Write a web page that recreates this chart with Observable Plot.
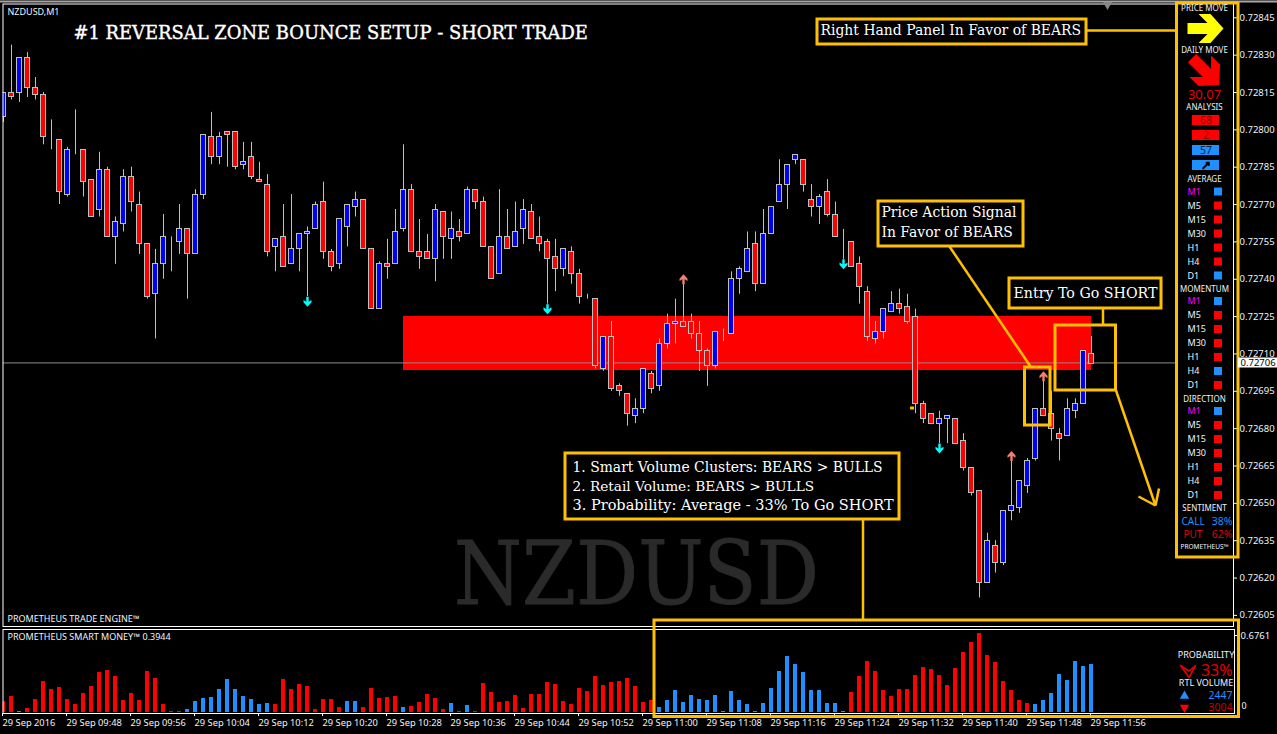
<!doctype html>
<html><head><meta charset="utf-8">
<script src="https://cdn.jsdelivr.net/npm/d3@7"></script>
<script src="https://cdn.jsdelivr.net/npm/@observablehq/plot@0.6"></script>
<style>
html,body{margin:0;background:#000;overflow:hidden}
#chart{position:relative;width:1277px;height:734px;background:#000}
#chart svg{position:absolute;left:0;top:0}
</style></head><body><div id="chart"></div>
<script>
// Prices in points (1 point = 0.00001)
const open = [72805,72815,72815,72829,72817,72814,72796,72796,72774,72791,
72792,72780,72768,72784,72757,72762,72781,72770,72754,72734,
72746,72755,72755,72760,72750,72774,72797,72789,72799,72799,
72786,72789,72780,72778,72753,72757,72746,72752,72758,72760,
72771,72751,72746,72761,72769,72772,72752,72728,72746,72746,
72760,72776,72751,72751,72748,72767,72756,72759,72758,72776,
72771,72753,72742,72757,72753,72760,72767,72757,72755,72749,
72744,72751,72742,72733,72732,72704,72717,72697,72694,72685,
72688,72702,72697,72714,72722,72723,72723,72718,72711,72705,
72719,72718,72740,72743,72754,72738,72758,72771,72778,72788,
72788,72772,72769,72775,72766,72756,72755,72746,72735,72716,
72719,72727,72730,72729,72725,72690,72686,72682,72684,72684,
72675,72664,72655,72618,72633,72626,72647,72648,72657,72668,
72688,72686,72678,72677,72687,72690,72710];
const high = [72815,72834,72829,72831,72821,72815,72804,72796,72793,72808,
72792,72780,72791,72785,72765,72784,72785,72775,72754,72752,
72766,72757,72770,72760,72776,72798,72807,72799,72799,72799,
72795,72795,72787,72782,72756,72770,72774,72758,72761,72771,
72779,72752,72764,72770,72775,72772,72752,72747,72756,72768,
72794,72778,72764,72758,72770,72767,72767,72764,72777,72776,
72773,72753,72776,72768,72771,72772,72770,72765,72756,72756,
72752,72753,72744,72734,72732,72717,72723,72698,72694,72692,
72704,72703,72716,72726,72732,72738,72726,72723,72712,72719,
72720,72743,72745,72759,72759,72768,72769,72788,72786,72790,
72788,72778,72774,72780,72771,72760,72755,72749,72737,72723,
72728,72735,72736,72734,72728,72691,72686,72687,72685,72684,
72678,72664,72655,72638,72635,72647,72667,72659,72668,72688,
72699,72695,72680,72692,72692,72711,72717];
const low = [72803,72812,72811,72813,72812,72794,72792,72770,72773,72790,
72773,72765,72765,72757,72746,72759,72767,72750,72732,72716,
72740,72743,72750,72732,72750,72772,72786,72786,72785,72784,
72784,72780,72779,72749,72743,72745,72746,72743,72733,72760,
72748,72743,72744,72753,72765,72752,72728,72728,72740,72746,
72759,72751,72744,72748,72739,72748,72748,72755,72758,72768,
72753,72740,72742,72752,72753,72754,72756,72751,72730,72735,
72741,72738,72730,72732,72704,72703,72695,72693,72681,72682,
72686,72694,72695,72712,72714,72721,72716,72703,72697,72704,
72715,72718,72734,72743,72735,72738,72758,72771,72768,72786,
72775,72765,72762,72765,72757,72748,72745,72730,72715,72714,
72716,72727,72726,72722,72686,72682,72682,72674,72674,72674,
72663,72653,72612,72618,72622,72625,72643,72646,72654,72667,
72685,72675,72667,72677,72684,72690,72706];
const close = [72815,72813,72829,72817,72814,72797,72796,72775,72792,72791,
72779,72765,72784,72757,72763,72781,72771,72754,72733,72746,
72757,72755,72760,72750,72774,72798,72789,72797,72798,72785,
72787,72781,72779,72751,72756,72745,72752,72758,72759,72770,
72751,72745,72764,72770,72772,72752,72728,72746,72745,72759,
72776,72751,72749,72748,72768,72757,72760,72757,72776,72771,
72753,72740,72757,72752,72759,72768,72756,72754,72748,72744,
72752,72742,72733,72733,72705,72717,72696,72695,72686,72688,
72704,72696,72714,72722,72723,72721,72718,72711,72705,72719,
72719,72740,72744,72752,72738,72758,72769,72778,72786,72790,
72778,72769,72773,72766,72757,72756,72745,72737,72717,72719,
72728,72730,72728,72723,72690,72684,72682,72684,72685,72674,
72664,72654,72618,72635,72626,72647,72649,72659,72667,72688,
72685,72680,72676,72688,72690,72711,72706];
const smartVolume = [.097,.140,.011,.037,.114,.268,.200,.217,.114,.071,
.165,.225,.345,.362,.311,.106,.165,.106,.354,.294,
.071,.006,.006,.029,.097,.123,.131,.200,.285,.200,
.140,.114,.071,.080,.071,.285,.200,.243,.225,.029,
.114,.114,.046,.097,.097,.046,.208,.123,.131,.140,
.046,.054,.088,.157,.123,.029,.080,.006,.063,.011,
.251,.174,.088,.097,.148,.037,.157,.157,.260,.243,
.097,.071,.208,.183,.311,.234,.260,.268,.294,.225,
.088,.106,.046,.106,.191,.088,.148,.114,.106,.148,
.011,.183,.106,.071,.011,.080,.208,.354,.482,.414,
.345,.191,.191,.080,.080,.006,.174,.311,.439,.354,
.191,.140,.200,.200,.320,.388,.371,.320,.234,.379,
.516,.602,.676,.491,.431,.268,.191,.106,.080,.071,
.106,.165,.328,.277,.439,.397,.414];
const bullVolumeBars = [2,23,24,25,26,27,28,29,30,31,32,33,43,44,50,56,58,
82,83,84,85,86,87,88,89,90,91,92,93,94,95,96,97,98,99,100,101,102,103,104,105,
129,130,131,132,133,134,135,136];
const priceTicks = [72845,72830,72815,72800,72785,72770,72755,72740,72725,72710,72695,72680,72665,72650,72635,72620,72605];
const timeLabels = ["29 Sep 2016","29 Sep 09:48","29 Sep 09:56","29 Sep 10:04","29 Sep 10:12","29 Sep 10:20","29 Sep 10:28","29 Sep 10:36","29 Sep 10:44","29 Sep 10:52","29 Sep 11:00","29 Sep 11:08","29 Sep 11:16","29 Sep 11:24","29 Sep 11:32","29 Sep 11:40","29 Sep 11:48","29 Sep 11:56"];
const upArrowCandles = [38,68,105,117];
const downArrowCandles = [85,126,130];
const reversalZone = {from:50,to:136,top:72725,bottom:72703.5};
const bidPrice = 72706;
const timeframes = ["M1","M5","M15","M30","H1","H4","D1"];
const averageSignal = ["B","S","S","S","S","S","B"];
const momentumSignal = ["B","S","S","S","S","B","S"];
const directionSignal = ["B","S","S","S","S","S","S"];

const UI = "'Noto Sans'", SERIF = "'DejaVu Serif'";
const BLUE="#1e90ff", RED="#ff0000", GOLD="#ffc000", GREY="#c0c0c0", INK="#eef4fb";
const idx = d3.range(open.length);
const base = {width:1277,height:734,style:{background:"transparent",color:"#fff",overflow:"visible"}};
const tickFmt = d => (d/1e5).toFixed(5);
// Small barbed signal arrow, pointing up from the origin
const signalArrow = {draw(c){
  c.moveTo(-1.2,0);c.lineTo(-1.2,-5);c.lineTo(-4,-3.2);c.lineTo(-4,-5.5);c.lineTo(0,-10);
  c.lineTo(4,-5.5);c.lineTo(4,-3.2);c.lineTo(1.2,-5);c.lineTo(1.2,0);c.closePath();}};
// Block arrow, pointing up from the origin
const blockArrow = {draw(c,l){const k=l/36;
  c.moveTo(-5.5*k,0);c.lineTo(-5.5*k,-20*k);c.lineTo(-14.5*k,-11*k);c.lineTo(-14.5*k,-23*k);
  c.lineTo(0,-36*k);c.lineTo(14.5*k,-23*k);c.lineTo(14.5*k,-11*k);c.lineTo(5.5*k,-20*k);c.lineTo(5.5*k,0);c.closePath();}};

const pricePlot = Plot.plot({...base,marginLeft:2.5,marginTop:3.5,marginRight:44,marginBottom:108,
  x:{type:"linear",domain:[0,136],range:[3,1091],axis:null},
  y:{domain:[72845,72605],range:[17.3,614.9],axis:null},
  marks:[
    Plot.rect([reversalZone],{x1:"from",x2:"to",y1:"top",y2:"bottom",fill:RED,shapeRendering:"crispEdges"}),
    Plot.ruleY([bidPrice],{x1:0,x2:147,dy:-1,stroke:"#8c8c8c"}),
    Plot.ruleX(idx,{x:i=>i,y1:i=>low[i],y2:i=>high[i],stroke:GREY,clip:true}),
    Plot.rect(idx,{x1:i=>i-.28,x2:i=>i+.28,y1:i=>open[i],y2:i=>close[i],clip:true,
      fill:i=>close[i]>open[i]?"#0000ff":close[i]<open[i]?RED:GREY,stroke:GREY,strokeWidth:1,shapeRendering:"crispEdges"}),
    Plot.vector(upArrowCandles,{x:i=>i,y:i=>low[i],rotate:180,length:10,anchor:"start",shape:signalArrow,fill:"#00ffff",stroke:"none"}),
    Plot.vector(downArrowCandles,{x:i=>i,y:i=>high[i],rotate:0,length:10,anchor:"start",shape:signalArrow,fill:"#f0806c",stroke:"none"}),
    Plot.frame({stroke:"#fff"}),
    Plot.axisY({anchor:"right",label:null,ticks:priceTicks,tickFormat:tickFmt,tickSize:3,tickPadding:3,stroke:"#fff",fill:INK,fontSize:9.5,fontFamily:UI})
  ]});

const volumeBars = idx.map(i=>({i,v:smartVolume[i],bull:bullVolumeBars.includes(i)}));
const volumePlot = Plot.plot({...base,marginLeft:2.5,marginTop:629,marginRight:43,marginBottom:21,
  x:{type:"linear",domain:[0,136],range:[3,1091],axis:null},
  y:{domain:[0,.6761],range:[712,633],axis:null},
  marks:[
    Plot.rect(volumeBars,{x1:d=>d.i-.3,x2:d=>d.i+.3,y1:0,y2:"v",fill:d=>d.bull?BLUE:RED,clip:true,shapeRendering:"crispEdges"}),
    Plot.frame({stroke:"#fff"}),
    Plot.axisX({anchor:"bottom",label:null,ticks:timeLabels.map((_,k)=>k*8),tickFormat:i=>timeLabels[i/8],textAnchor:"start",tickSize:3,tickPadding:3,dx:-1,stroke:"#fff",fill:INK,fontSize:9.3,fontFamily:UI}),
    Plot.axisY({anchor:"right",label:null,ticks:[.6761],tickFormat:".4f",tickSize:3,tickPadding:3,dy:2,stroke:"#fff",fill:INK,fontSize:9.5,fontFamily:UI})
  ]});

// Overlay layer: callouts and the indicator panel, on a page-sized scale
const textBoxes = [
  {x1:817,x2:1086,y1:19,y2:44},
  {x1:878,x2:1023,y1:201,y2:246},
  {x1:1009,x2:1161,y1:278,y2:308},
  {x1:565,x2:899,y1:453,y2:519}
];
const frames = [
  {x1:1024.5,x2:1050,y1:367,y2:425},
  {x1:1055,x2:1115.5,y1:325,y2:390},
  {x1:654,x2:1238.5,y1:620,y2:716.5},
  {x1:1176.5,x2:1238,y1:3,y2:557}
];
const leaders = [
  {x1:1086,y1:30,x2:1176,y2:30},
  {x1:949,y1:246,x2:1030,y2:366},
  {x1:1102.5,y1:308,x2:1102.5,y2:325},
  {x1:1115.5,y1:390,x2:1155,y2:505},
  {x1:1138,y1:496,x2:1155,y2:505},
  {x1:1158.5,y1:488,x2:1155,y2:505},
  {x1:862.5,y1:519,x2:862.5,y2:620}
];
const serifLabels = [
  {t:"Right Hand Panel In Favor of BEARS",x:820,y:30.5,s:13.95},
  {t:"Price Action Signal",x:881,y:212.5,s:13.9},
  {t:"In Favor of BEARS",x:881,y:232,s:13.9},
  {t:"Entry To Go SHORT",x:1013,y:293,s:14.2},
  {t:"1. Smart Volume Clusters: BEARS > BULLS",x:572,y:467,s:13.9},
  {t:"2. Retail Volume: BEARS > BULLS",x:572,y:486,s:13.7},
  {t:"3. Probability: Average - 33% To Go SHORT",x:572,y:505,s:14.5}
];
const uiStart = [
  {t:"NZDUSD,M1",x:7,y:11.5},
  {t:"PROMETHEUS TRADE ENGINE™",x:7,y:618.5},
  {t:"PROMETHEUS SMART MONEY™ 0.3944",x:7,y:637},
  {t:"0",x:1241,y:706}
];
const uiMiddle = [
  {t:"PROBABILITY",x:1205.5,y:655},
  {t:"RTL VOLUME",x:1205.5,y:683}
];
const panelHeads = [
  {t:"PRICE MOVE",y:8},{t:"DAILY MOVE",y:50},{t:"ANALYSIS",y:107},{t:"AVERAGE",y:179},
  {t:"MOMENTUM",y:289},{t:"DIRECTION",y:399},{t:"SENTIMENT",y:508},{t:"PROMETHEUS™",y:546,s:6.5}
];
const analysisRows = [
  {t:"68",y:120,f:RED,c:"#900000"},{t:"2",y:135,f:RED,c:"#900000"},
  {t:"57",y:150,f:BLUE,c:"#06284d"},{t:"",y:165,f:BLUE,c:"#000"}
];
const signalRows = [[191.5,averageSignal],[301,momentumSignal],[411,directionSignal]]
  .flatMap(([y0,sig])=>timeframes.map((tf,k)=>({tf,y:y0+k*14,s:sig[k]})));
const colouredStart = [
  {t:"CALL",x:1181,y:521.5,s:10,c:BLUE},
  {t:"PUT",x:1183,y:534.5,s:10,c:"#e00000"}
];
const colouredEnd = [
  {t:"38%",x:1232,y:521.5,s:10.5,c:BLUE},
  {t:"62%",x:1232,y:534.5,s:10.5,c:"#e00000"},
  {t:"33%",x:1232,y:670,s:16,c:"#e00000"},
  {t:"2447",x:1232,y:695.5,s:10.5,c:BLUE},
  {t:"3004",x:1232,y:707.5,s:10.5,c:"#c80000"}
];
const probabilityGlyph = [[1180,665],[1188.5,677],[1195,665],[1188.5,670.5],[1180,665]];

const overlay = Plot.plot({...base,margin:0,
  x:{type:"linear",domain:[0,1277],range:[0,1277],axis:null},
  y:{type:"linear",domain:[0,734],range:[0,734],axis:null},
  marks:[
    Plot.ruleY([1],{x1:0,x2:1277,stroke:"#a8a8a8",strokeWidth:2}),
    Plot.dot([0],{x:1107,y:4,symbol:"triangle",r:3.5,rotate:180,fill:"#888"}),
    Plot.rect([0],{x1:1177,x2:1233,y1:3,y2:557,fill:"#000"}),
    Plot.text(["NZDUSD"],{x:636,y:575,text:d=>d,fill:"#2a2a2a",fontSize:88,fontFamily:SERIF,stroke:"#2a2a2a",strokeWidth:1}),
    Plot.text(["#1 REVERSAL ZONE BOUNCE SETUP - SHORT TRADE"],{x:73,y:33,text:d=>d,textAnchor:"start",fill:"#fff",stroke:"#fff",strokeWidth:.4,fontSize:17.9,fontFamily:SERIF}),
    Plot.rect([0],{x1:910,x2:914,y1:406.5,y2:409.5,fill:GOLD}),
    Plot.text(uiStart,{x:"x",y:"y",text:"t",textAnchor:"start",fill:INK,fontSize:9,fontFamily:UI}),
    Plot.link(leaders,{x1:"x1",y1:"y1",x2:"x2",y2:"y2",stroke:GOLD,strokeWidth:2.5}),
    Plot.rect(frames,{x1:"x1",x2:"x2",y1:"y1",y2:"y2",fill:"none",stroke:GOLD,strokeWidth:3}),
    Plot.rect(textBoxes,{x1:"x1",x2:"x2",y1:"y1",y2:"y2",fill:"#000",stroke:GOLD,strokeWidth:3}),
    Plot.text(serifLabels,{x:"x",y:"y",text:"t",fontSize:"s",textAnchor:"start",fill:"#fff",fontFamily:SERIF}),
    Plot.text(uiMiddle,{x:"x",y:"y",text:"t",textAnchor:"middle",fill:INK,fontSize:9,fontFamily:UI}),
    // Bid price tag
    Plot.rect([0],{x1:1238,x2:1277,y1:357.5,y2:367.5,fill:"#fff"}),
    Plot.text([bidPrice],{x:1240,y:362.5,text:tickFmt,textAnchor:"start",fill:"#000",fontSize:9.5,fontFamily:UI}),
    // Indicator panel
    Plot.text(panelHeads,{x:1204,y:"y",text:"t",fill:INK,fontSize:d=>d.s||8,fontFamily:UI}),
    Plot.vector([0],{x:1205,y:28,rotate:90,length:36,shape:blockArrow,fill:"#ffff00",stroke:"none"}),
    Plot.vector([0],{x:1205,y:71,rotate:135,length:38,shape:blockArrow,fill:"#ff0000",stroke:"none"}),
    Plot.text(["30.07"],{x:1204,y:94,text:d=>d,fontSize:13,fill:"#e00000",fontFamily:UI}),
    Plot.rect(analysisRows,{x1:1192,x2:1219,y1:d=>d.y-5,y2:d=>d.y+5,fill:"f"}),
    Plot.text(analysisRows,{x:1205.5,y:"y",text:"t",fill:"c",fontSize:10.5,fontFamily:UI}),
    Plot.vector([0],{x:1205.5,y:165,rotate:45,length:8,stroke:"#000",strokeWidth:2}),
    Plot.text(signalRows,{x:1187,y:"y",text:"tf",textAnchor:"start",fill:d=>d.tf==="M1"?"#ff00ff":INK,fontSize:9,fontFamily:UI}),
    Plot.rect(signalRows,{x1:1214,x2:1222,y1:d=>d.y-4,y2:d=>d.y+4,fill:d=>d.s==="B"?BLUE:RED}),
    Plot.text(colouredStart,{x:"x",y:"y",text:"t",textAnchor:"start",fontSize:"s",fill:"c",fontFamily:UI}),
    Plot.text(colouredEnd,{x:"x",y:"y",text:"t",textAnchor:"end",fontSize:"s",fill:"c",fontFamily:UI}),
    // Probability and retail volume glyphs
    Plot.line(probabilityGlyph,{x:d=>d[0],y:d=>d[1],stroke:"#e00000",strokeWidth:1.6}),
    Plot.dot([0],{x:1184,y:695.5,symbol:"triangle",r:3.5,fill:BLUE}),
    Plot.dot([0],{x:1184,y:707,symbol:"triangle",r:3.5,fill:RED,rotate:180})
  ]});

d3.select(overlay).selectAll("text").filter(function(){return this.textContent==="NZDUSD";})
  .attr("textLength",365).attr("lengthAdjust","spacingAndGlyphs");

document.getElementById("chart").append(pricePlot,volumePlot,overlay);
</script></body></html>
